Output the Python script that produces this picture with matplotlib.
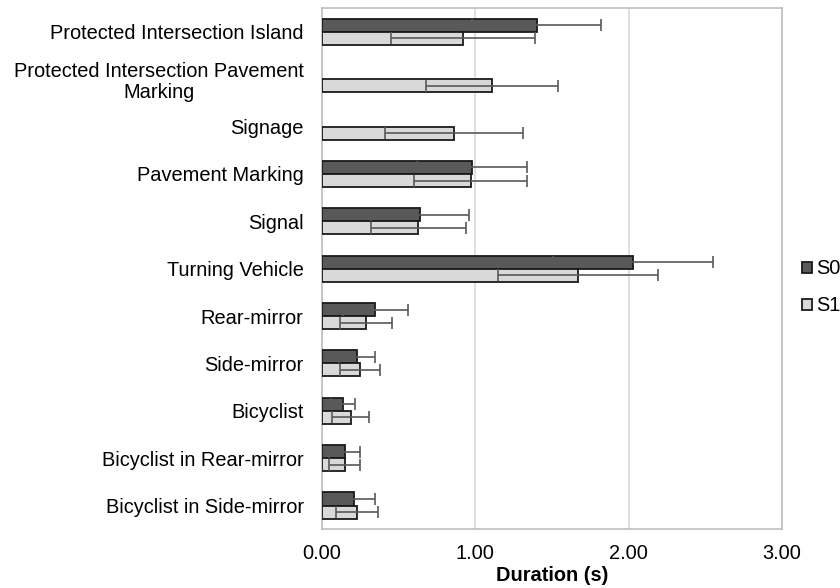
import numpy as np
import matplotlib.pyplot as plt

plt.rcParams['font.family'] = ['Liberation Sans', 'DejaVu Sans']

categories = ['Protected Intersection Island',
              'Protected Intersection Pavement\nMarking',
              'Signage', 'Pavement Marking', 'Signal', 'Turning Vehicle',
              'Rear-mirror', 'Side-mirror', 'Bicyclist',
              'Bicyclist in Rear-mirror', 'Bicyclist in Side-mirror']
s0 = [1.40, np.nan, np.nan, 0.98, 0.64, 2.03, 0.35, 0.23, 0.14, 0.15, 0.21]
s0_err = [0.42, np.nan, np.nan, 0.36, 0.32, 0.52, 0.21, 0.12, 0.08, 0.10, 0.14]
s1 = [0.92, 1.11, 0.86, 0.97, 0.63, 1.67, 0.29, 0.25, 0.19, 0.15, 0.23]
s1_err = [0.47, 0.43, 0.45, 0.37, 0.31, 0.52, 0.17, 0.13, 0.12, 0.10, 0.14]

y = np.arange(len(categories))
h = 0.275
fs = 14.4

fig, ax = plt.subplots(figsize=(8.4, 5.88), dpi=100)
fig.subplots_adjust(left=0.383, right=0.931, top=0.986, bottom=0.100)

err_kw = dict(ecolor='#595959', elinewidth=1.2, capsize=4, capthick=1.2)
ax.barh(y - h / 2, s0, height=h, xerr=s0_err, color='#595959',
        edgecolor='#1a1a1a', linewidth=1.3, label='S0', error_kw=err_kw, zorder=3)
ax.barh(y + h / 2, s1, height=h, xerr=s1_err, color='#d9d9d9',
        edgecolor='#1a1a1a', linewidth=1.3, label='S1', error_kw=err_kw, zorder=3)

ax.set_yticks(y)
ax.set_yticklabels(categories, fontsize=fs, ha='right', multialignment='center',
                   linespacing=1.1)
ax.set_ylim(len(categories) - 0.5, -0.5)
ax.set_xlim(0, 3)
ax.set_xticks([0, 1, 2, 3])
ax.set_xticklabels(['0.00', '1.00', '2.00', '3.00'], fontsize=fs)
ax.tick_params(length=0)
ax.tick_params(axis='x', pad=11)
ax.tick_params(axis='y', pad=13)
ax.set_xlabel('Duration (s)', fontsize=fs, fontweight='bold', labelpad=2)

ax.xaxis.grid(True, color='#d9d9d9', linewidth=1.2, zorder=0)
for s in ax.spines.values():
    s.set_color('#bfbfbf')
    s.set_linewidth(1.2)

leg = ax.legend(loc='center left', bbox_to_anchor=(1.0, 0.464), frameon=False,
                fontsize=fs, handlelength=0.5, handleheight=0.5,
                handletextpad=0.2, labelspacing=0.9, borderaxespad=0.6)

plt.savefig('out.png', dpi=100)
